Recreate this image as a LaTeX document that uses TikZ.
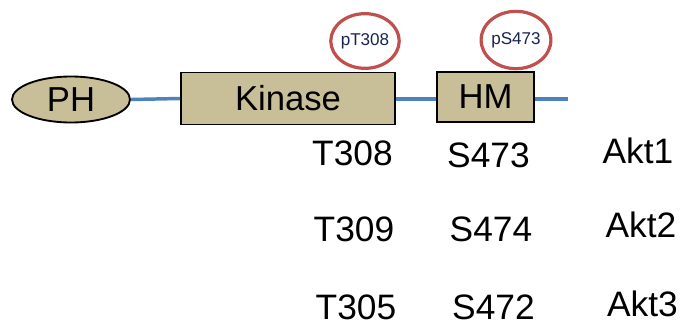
\documentclass[tikz,border=0pt]{standalone}
\usepackage{fontspec}
\setmainfont{Liberation Sans}
\usetikzlibrary{shapes.geometric}
\definecolor{domfill}{RGB}{200,190,152}
\definecolor{linkblue}{RGB}{79,129,189}
\definecolor{phosred}{RGB}{192,80,77}
\definecolor{phostext}{RGB}{25,35,80}
\tikzset{
  protdom/.style={draw=black, line width=1.4pt, fill=domfill, inner sep=0pt,
    font=\fontsize{26}{30}\selectfont},
  linker/.style={draw=linkblue, line width=2.6pt},
  phos/.style={ellipse, draw=phosred, line width=2.4pt, fill=white, inner sep=0pt,
    text=phostext, font=\fontsize{12.8}{14}\selectfont},
  site/.style={anchor=base, inner sep=0pt, font=\fontsize{26.5}{30}\selectfont}
}
\begin{document}
\begin{tikzpicture}[x=0.75pt, y=-0.75pt]
  \useasboundingbox (0,0) rectangle (681,325);

  % phosphorylation markers
  \node[phos, minimum width=47pt, minimum height=41pt] (p308) at (365,41) {pT308};
  \node[phos, minimum width=44pt, minimum height=43pt] (p473) at (516,40) {pS473};

  % protein domains
  \node[protdom, ellipse, minimum width=88.5pt, minimum height=34.5pt] (ph) at (71,99.5) {PH};
  \node[protdom, rectangle, minimum width=160.5pt, minimum height=39pt] (kin) at (288,98.5) {Kinase};
  \node[protdom, rectangle, minimum width=72.5pt, minimum height=37.5pt] (hm) at (485.5,97) {HM};
  \coordinate (cterm) at (568,99);

  % linkers
  \draw[linker] (ph.east) -- (kin.west);
  \draw[linker] (kin.east |- cterm) -- (hm.west |- cterm);
  \draw[linker] (hm.east |- cterm) -- (cterm);

  % residue table
  \node[site] (t1) at (352.5,165) {T308};
  \node[site] (s1) at (488.5,167) {S473};
  \node[site] (a1) at (638,163) {Akt1};
  \node[site] (t2) at (354,241) {T309};
  \node[site] (s2) at (491,241) {S474};
  \node[site] (a2) at (641,237) {Akt2};
  \node[site] (t3) at (356,319) {T305};
  \node[site] (s3) at (493.5,319) {S472};
  \node[site] (a3) at (642.5,316) {Akt3};
\end{tikzpicture}
\end{document}
